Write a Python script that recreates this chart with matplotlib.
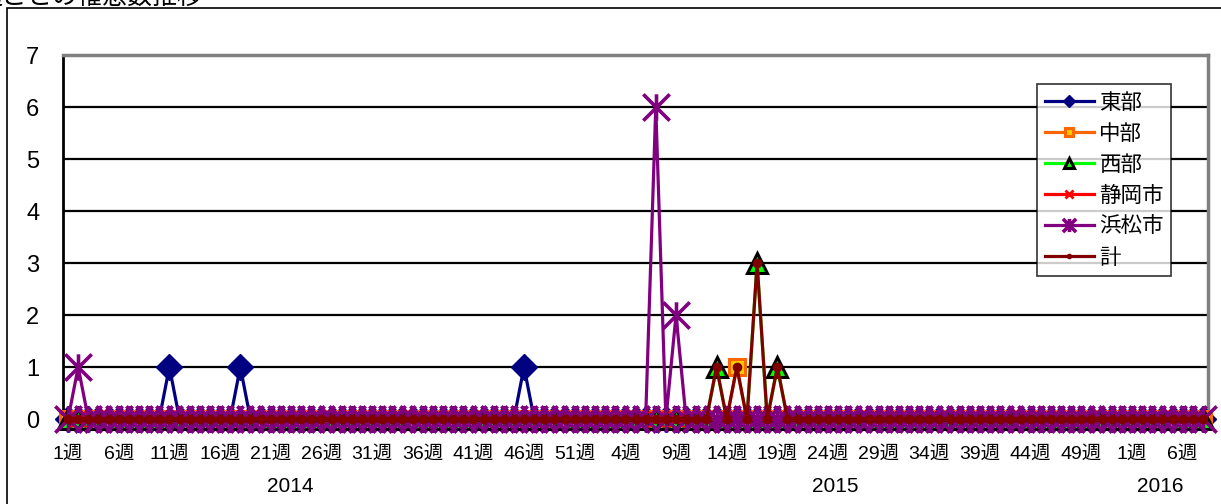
import matplotlib
matplotlib.use("Agg")
import matplotlib.pyplot as plt
from matplotlib.path import Path
from matplotlib.patches import Rectangle
import matplotlib.transforms as mtransforms

plt.rcParams['font.family'] = ['Liberation Sans', 'Noto Sans CJK JP', 'DejaVu Sans']

# ---- data ----
title = "週ごとの罹患数推移"
years = ["2014", "2015", "2016"]
weeks_in_year = [52, 53, 8]          # weeks shown per year
series_names = ["東部", "中部", "西部", "静岡市", "浜松市", "計"]
# non-zero values, keyed by (year, week); every other week is 0
toubu   = {("2014", 11): 1, ("2014", 18): 1, ("2014", 46): 1}
chubu   = {("2015", 15): 1}
seibu   = {("2015", 13): 1, ("2015", 17): 3, ("2015", 19): 1}
shizuoka = {}
hamamatsu = {("2014", 2): 1, ("2015", 7): 6, ("2015", 9): 2}
total   = {("2015", 13): 1, ("2015", 15): 1, ("2015", 17): 3, ("2015", 19): 1}
tick_labels = ["1週", "6週", "11週", "16週", "21週", "26週", "31週", "36週", "41週", "46週", "51週",
               "4週", "9週", "14週", "19週", "24週", "29週", "34週", "39週", "44週", "49週",
               "1週", "6週"]
year_label_pos = [21.9, 75.7, 107.8]   # category position of year captions
y_ticks = [0, 1, 2, 3, 4, 5, 6, 7]

# ---- build categories ----
periods = []
for yr, n in zip(years, weeks_in_year):
    for w in range(1, n + 1):
        periods.append((yr, w))
x = list(range(len(periods)))

def values(d):
    return [d.get(p, 0) for p in periods]

W, H = 1221, 504
fig = plt.figure(figsize=(W / 100, H / 100), dpi=100)
ax = fig.add_axes([63 / W, (H - 419) / H, (1208 - 63) / W, (419 - 55) / H])

# outer chart border (cut off at right/bottom)
fig.patches.append(Rectangle((7 / W, -0.1), 1.2, 1 - 8 / H + 0.1, transform=fig.transFigure,
                             fill=False, edgecolor='black', linewidth=1.2))
fig.text(-23 / W, 1 - 4 / H, title, fontsize=18, family=['Noto Sans CJK JP'],
         ha='left', va='baseline')

asterisk = Path([(-1, -1), (1, 1), (-1, 1), (1, -1), (0, -1), (0, 1)],
                [Path.MOVETO, Path.LINETO, Path.MOVETO, Path.LINETO, Path.MOVETO, Path.LINETO])

lw = 2.3
styles = [
    dict(color='#000080', marker='D', ms=13, mfc='#000080', mec='#000080'),
    dict(color='#FF6600', marker='s', ms=11, mfc='#FFCC00', mec='#FF6600', mew=2.2),
    dict(color='#00FF00', marker='^', ms=14, mfc='#00FF00', mec='black', mew=2.2),
    dict(color='#FF0000', marker='x', ms=11, mec='#FF0000', mew=2.0),
    dict(color='#800080', marker=asterisk, ms=19, mfc='none', mec='#800080', mew=2.6),
    dict(color='#800000', marker='o', ms=6, mfc='#800000', mec='#800000'),
]
data = [toubu, chubu, seibu, shizuoka, hamamatsu, total]
handles = []
for name, d, st in zip(series_names, data, styles):
    h, = ax.plot(x, values(d), lw=lw, label=name, clip_on=False, zorder=3, **st)
    handles.append(h)

ax.set_xlim(-0.5, len(periods) - 0.5)
ax.set_ylim(0, 7)
ax.set_yticks(y_ticks)
ax.set_yticklabels([str(v) for v in y_ticks], fontsize=17)
ax.tick_params(axis='y', length=0, pad=17)
for v in y_ticks[1:-1]:
    ax.axhline(v, color='black', lw=1.6, zorder=1)

tick_idx = [i for i, p in enumerate(periods) if (i % 5) == 0]
ax.set_xticks(tick_idx)
ax.set_xticklabels(tick_labels, fontsize=14)
ax.tick_params(axis='x', length=0, pad=19)

trans = mtransforms.blended_transform_factory(ax.transData, fig.transFigure)
for yr, pos in zip(years, year_label_pos):
    fig.text(pos, 1 - 487 / H, yr, transform=trans, fontsize=15, ha='center', va='center')

ax.spines['left'].set_color('black'); ax.spines['left'].set_linewidth(2)
ax.spines['bottom'].set_color('black'); ax.spines['bottom'].set_linewidth(2)
ax.spines['top'].set_color('#808080'); ax.spines['top'].set_linewidth(2.5)
ax.spines['right'].set_color('#808080'); ax.spines['right'].set_linewidth(2.5)

leg = fig.legend(handles=handles, loc='upper left',
                 bbox_to_anchor=(1037 / W, 1 - 84 / H), bbox_transform=fig.transFigure,
                 borderaxespad=0, markerscale=0.5, handlelength=2.3, handletextpad=0.25,
                 labelspacing=0.42, borderpad=0.35, frameon=True, fancybox=False,
                 prop={'family': ['Noto Sans CJK JP'], 'size': 15.5})
leg.get_frame().set_edgecolor('black')
leg.get_frame().set_linewidth(1.2)

fig.savefig("out.png", dpi=100)
